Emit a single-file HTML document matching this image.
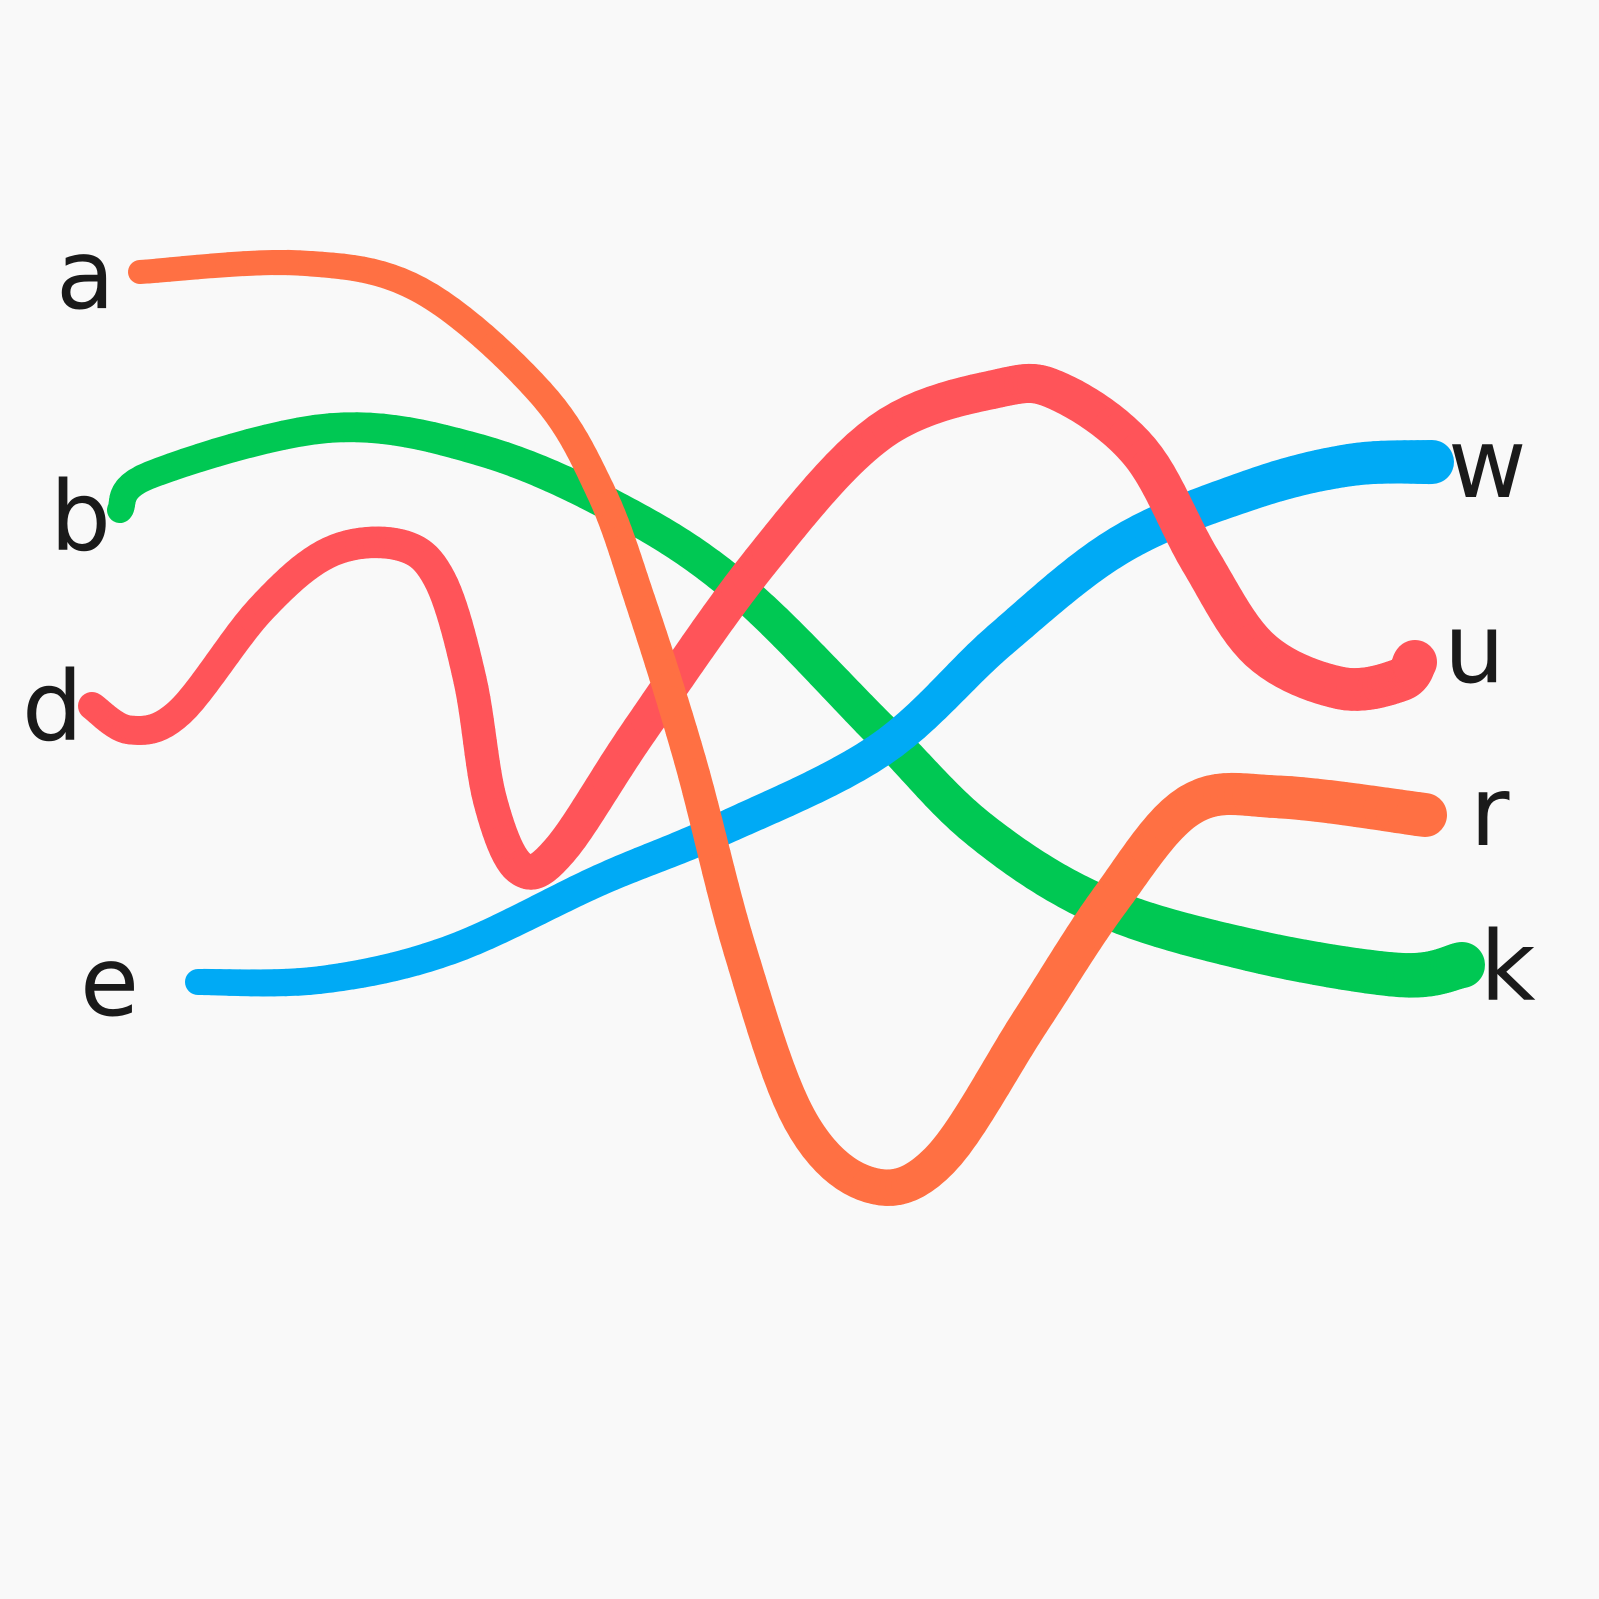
<!DOCTYPE html>
<html><head><meta charset="utf-8"><style>
html,body{margin:0;padding:0;background:#f9f9f9;}
svg{display:block}
text{font-family:"DejaVu Sans","Liberation Sans",sans-serif;font-size:96px;fill:#1a1a1a;}
</style></head><body>
<svg id="chart" width="1599" height="1599" viewBox="0 0 1599 1599" xmlns="http://www.w3.org/2000/svg">
<rect width="1599" height="1599" fill="#f9f9f9"/>
<g id="lines"></g>
<text x="56" y="308">a</text>
<text x="50" y="550">b</text>
<text x="22" y="740">d</text>
<text x="80" y="1015">e</text>
<text x="1448" y="497">w</text>
<text x="1444" y="682">u</text>
<text x="1470" y="845">r</text>
<text x="1480" y="1000">k</text>
</svg>
<script>
const greenX=[120,150,330,480,620,740,880,980,1100,1250,1400,1462];
const greenY=[510,475,428,450,510,590,730,830,905,950,975,965];
const greenW=[26,46];
const blueX=[198,320,450,600,720,880,1000,1120,1250,1350,1432];
const blueY=[982,980,950,880,830,750,640,545,490,465,462];
const blueW=[26,44];
const redX=[92,130,180,260,330,400,440,470,490,520,560,640,760,880,1000,1060,1140,1200,1260,1340,1400,1415];
const redY=[706,730,712,610,552,545,580,680,800,868,850,730,562,432,388,392,452,560,650,688,680,662];
const redW=[28,44];
const orangeX=[140,300,420,540,600,640,690,740,800,870,940,1030,1110,1190,1280,1425];
const orangeY=[272,263,290,392,490,600,760,950,1120,1185,1160,1022,900,805,797,815];
const orangeW=[24,44];
const g=document.getElementById('lines');
function cr(p0,p1,p2,p3,t){const t2=t*t,t3=t2*t;return 0.5*((2*p1)+(-p0+p2)*t+(2*p0-5*p1+4*p2-p3)*t2+(-p0+3*p1-3*p2+p3)*t3);}
function draw(xs,ys,ws,color,name){
  const pts=[];const n=xs.length;
  for(let i=0;i<n-1;i++){
    const i0=Math.max(0,i-1),i3=Math.min(n-1,i+2);
    for(let s=0;s<12;s++){const t=s/12;
      pts.push([cr(xs[i0],xs[i],xs[i+1],xs[i3],t),cr(ys[i0],ys[i],ys[i+1],ys[i3],t)]);}
  }
  pts.push([xs[n-1],ys[n-1]]);
  const grp=document.createElementNS('http://www.w3.org/2000/svg','g');
  
  
  for(let i=0;i<pts.length-1;i++){
    const f=i/(pts.length-2);
    const l=document.createElementNS('http://www.w3.org/2000/svg','line');
    l.setAttribute('x1',pts[i][0]);l.setAttribute('y1',pts[i][1]);
    l.setAttribute('x2',pts[i+1][0]);l.setAttribute('y2',pts[i+1][1]);
    l.setAttribute('stroke',color);l.setAttribute('stroke-linecap','round');
    l.setAttribute('stroke-width',ws[0]+(ws[1]-ws[0])*f);
    
    
    grp.appendChild(l);
  }
  g.appendChild(grp);
}
draw(greenX,greenY,greenW,'#00c853','line-b-k');
draw(blueX,blueY,blueW,'#00aaf5','line-e-w');
draw(redX,redY,redW,'#ff5459','line-d-u');
draw(orangeX,orangeY,orangeW,'#ff7043','line-a-r');
</script>
</body></html>
